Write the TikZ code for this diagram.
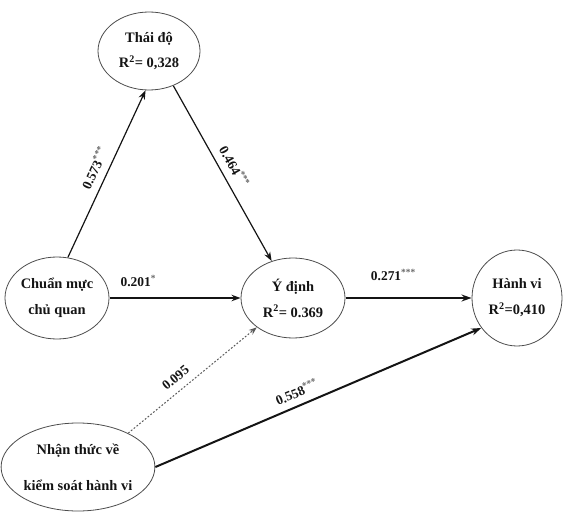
\documentclass[tikz,border=0pt]{standalone}
\usepackage{fontspec}
\setmainfont{Liberation Serif}
\usetikzlibrary{arrows.meta,shapes.geometric}
\definecolor{PathInk}{gray}{0.08}
\definecolor{PathRim}{gray}{0.30}
\definecolor{PathDots}{gray}{0.35}
\definecolor{PathStars}{gray}{0.40}
\tikzset{
    sem/diagram/.style={
        x=1bp, y=-1bp,
        font=\fontsize{14.5}{26}\selectfont\bfseries,
        text=PathInk,
        line join=round,
        every node/.style={inner sep=1.5pt, outer sep=0.5pt}
    },
    sem/construct/.style={
        ellipse, draw=PathRim, line width=0.8bp,
        align=center, inner sep=0pt
    },
    sem/path/.style={
        draw=PathInk, line width=1.2bp,
        -{Stealth[length=9bp, width=6.5bp]}
    },
    sem/strong/.style={
        draw=PathInk, line width=2bp,
        -{Stealth[length=10bp, width=7bp]}
    },
    sem/weak/.style={
        draw=PathDots, line width=1bp,
        dash pattern=on 1.8bp off 1.8bp,
        -{Stealth[length=8bp, width=6bp]}
    },
    sem/coef/.style={font=\fontsize{13.5}{15}\selectfont\bfseries, sloped, above=6bp}
}
\newcommand{\semstars}[1]{\textsuperscript{\textcolor{PathStars}{#1}}}

\begin{document}
\begin{tikzpicture}[sem/diagram]
    \useasboundingbox (0,0) rectangle (568,514);
    \node[sem/construct, minimum width=102bp, minimum height=78bp]
        (td) at (149,51) {Thái độ\\R\textsuperscript{2}= 0,328};
    \node[sem/construct, minimum width=104bp, minimum height=82bp]
        (cm) at (57,298) {Chuẩn mực\\chủ quan};
    \node[sem/construct, minimum width=104bp, minimum height=80bp]
        (yd) at (293,298) {Ý định\\R\textsuperscript{2}= 0.369};
    \node[sem/construct, minimum width=90bp, minimum height=96bp]
        (hv) at (517,298) {Hành vi\\R\textsuperscript{2}=0,410};
    \node[sem/construct, minimum width=146bp, minimum height=88bp]
        (nt) at (78,467) {Nhận thức về\\[10bp]kiểm soát hành vi};
    \draw[sem/path] (cm.75) -- (td.265)
        node[sem/coef, pos=0.5] {0.573\semstars{***}};
    \draw[sem/path] (td.-55) -- (yd.120)
        node[sem/coef, pos=0.5] {0.464\semstars{***}};
    \draw[sem/path] (cm.east) -- (yd.west)
        node[sem/coef, pos=0.22, above=3bp] {0.201\semstars{*}};
    \draw[sem/strong] (yd.east) -- (hv.west)
        node[sem/coef, pos=0.38, above=9bp] {0.271\semstars{***}};
    \draw[sem/weak] (nt.34) -- (yd.-141)
        node[sem/coef, pos=0.43] {0.095};
    \draw[sem/strong] (nt.east) -- (hv.-140)
        node[sem/coef, pos=0.45, above=0bp] {0.558\semstars{***}};
\end{tikzpicture}
\end{document}
